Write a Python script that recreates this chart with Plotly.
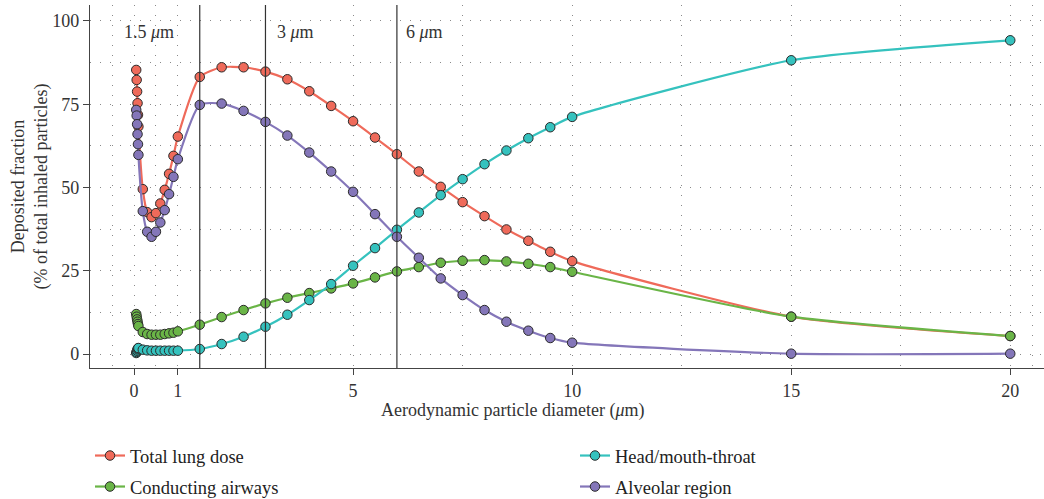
import plotly.graph_objects as go

# ---- data ----
diameter = [0.05, 0.06, 0.07, 0.08, 0.09, 0.1,
            0.2, 0.3, 0.4, 0.5, 0.6, 0.7, 0.8, 0.9, 1.0,
            1.5, 2.0, 2.5, 3.0, 3.5, 4.0, 4.5, 5.0, 5.5, 6.0, 6.5,
            7.0, 7.5, 8.0, 8.5, 9.0, 9.5, 10, 15, 20]

total_lung = [85.3, 82.3, 78.8, 75.3, 71.8, 68.3,
              49.5, 42.6, 41.1, 42.3, 45.2, 49.3, 54.1, 59.5, 65.3,
              83.2, 86.1, 86.1, 84.8, 82.5, 78.9, 74.5, 69.9, 65.0, 60.0, 54.8,
              50.2, 45.6, 41.4, 37.4, 34.0, 30.7, 27.9, 11.2, 5.4]

conducting = [12.0, 11.2, 10.4, 9.7, 9.0, 8.4,
              6.6, 6.0, 5.8, 5.8, 5.8, 6.0, 6.2, 6.4, 6.8,
              8.8, 11.1, 13.2, 15.2, 16.9, 18.3, 19.7, 21.2, 23.0, 24.8, 26.1,
              27.4, 28.0, 28.2, 27.8, 27.1, 26.1, 24.7, 11.2, 5.4]

head_throat = [0.3, 0.6, 1.0, 1.4, 1.7, 1.8,
               1.3, 1.1, 1.0, 1.0, 1.0, 1.0, 1.0, 1.0, 1.0,
               1.5, 3.0, 5.2, 8.2, 11.8, 16.2, 21.0, 26.5, 31.8, 37.3, 42.5,
               47.7, 52.5, 57.0, 61.1, 64.8, 68.1, 71.2, 88.2, 94.2]

alveolar = [73.3, 71.6, 69.0, 66.0, 63.0, 59.8,
            42.9, 36.7, 35.2, 36.7, 39.5, 43.2, 48.0, 53.2, 58.5,
            74.8, 75.2, 73.0, 69.7, 65.6, 60.5, 54.8, 48.7, 42.0, 35.2, 28.9,
            22.7, 17.7, 13.2, 9.7, 7.0, 4.8, 3.4, 0.1, 0.1]

x_ticks = [0, 1, 5, 10, 15, 20]
x_minor = [-0.5, 0.5, 3, 7.5, 12.5, 17.5, 20.5]
y_ticks = [0, 25, 50, 75, 100]
y_minor = [12.5, 37.5, 62.5, 87.5]
cutoffs = [1.5, 3, 6]

FONT = "Liberation Serif"
TXT = "#333333"
# name, values, colour, legend id, legend pixel position (x, y)
series = [
    ("Total lung dose", total_lung, "#EF6A5A", "legend", (90, 456)),
    ("Conducting airways", conducting, "#6AB547", "legend3", (90, 487)),
    ("Head/mouth-throat", head_throat, "#35C2BE", "legend2", (575, 456)),
    ("Alveolar region", alveolar, "#8476B9", "legend4", (575, 487)),
]

fig = go.Figure()
legends = {}
for name, vals, col, leg, (px, py) in series:
    fig.add_trace(go.Scatter(
        x=diameter, y=vals, name=name, mode="lines+markers",
        line=dict(color=col, width=2.2, shape="spline", smoothing=0.6),
        marker=dict(size=9.5, color=col, line=dict(color="#2b2b2b", width=1)),
        legend=leg,
    ))
    legends[leg] = dict(x=(px - 90) / 954, y=(368 - py) / 363,
                        orientation="h", xanchor="left", yanchor="middle",
                        font=dict(family=FONT, size=18.5, color="#222"),
                        bgcolor="rgba(0,0,0,0)")

for c in cutoffs:
    fig.add_shape(type="line", xref="x", yref="paper", x0=c, x1=c, y0=0, y1=1,
                  line=dict(color="#333333", width=1.2))

ann_font = dict(family=FONT, size=18, color=TXT)
fig.add_annotation(x=0.96, y=96.7, xref="x", yref="y", text="1.5 <i>μ</i>m",
                   showarrow=False, xanchor="right", font=ann_font)
fig.add_annotation(x=3.22, y=96.7, xref="x", yref="y", text="3 <i>μ</i>m",
                   showarrow=False, xanchor="left", font=ann_font)
fig.add_annotation(x=6.16, y=96.7, xref="x", yref="y", text="6 <i>μ</i>m",
                   showarrow=False, xanchor="left", font=ann_font)

# axis titles
fig.add_annotation(x=(512 - 90) / 954, y=(368 - 410) / 363, xref="paper", yref="paper",
                   text="Aerodynamic particle diameter (<i>μ</i>m)", showarrow=False,
                   xanchor="center", yanchor="middle", font=ann_font)
fig.add_annotation(x=(29 - 90) / 954, y=0.5, xref="paper", yref="paper",
                   text="Deposited fraction<br>(% of total inhaled particles)", showarrow=False,
                   textangle=-90, xanchor="center", yanchor="middle", font=ann_font)

grid = dict(showgrid=True, gridcolor="#8a8a8a", gridwidth=1, griddash="1px,9px")
fig.update_xaxes(range=[-1.005, 20.77], tickvals=x_ticks, ticks="outside", ticklen=6,
                 tickcolor="#444", showline=True, linecolor="#444", linewidth=1.3,
                 zeroline=False, tickfont=ann_font,
                 minor=dict(tickvals=x_minor, ticks="", **grid), **grid)
fig.update_yaxes(range=[-4.2, 104.8], tickvals=y_ticks, ticks="outside", ticklen=6,
                 tickcolor="#444", showline=True, linecolor="#444", linewidth=1.3,
                 zeroline=False, tickfont=ann_font,
                 minor=dict(tickvals=y_minor, ticks="", **grid), **grid)

fig.update_layout(
    width=1044, height=499,
    margin=dict(l=90, r=0, t=5, b=131, autoexpand=False),
    plot_bgcolor="white", paper_bgcolor="white",
    font=dict(family=FONT, size=18, color=TXT),
    showlegend=True,
    **legends,
)

fig.write_html("out.html")
